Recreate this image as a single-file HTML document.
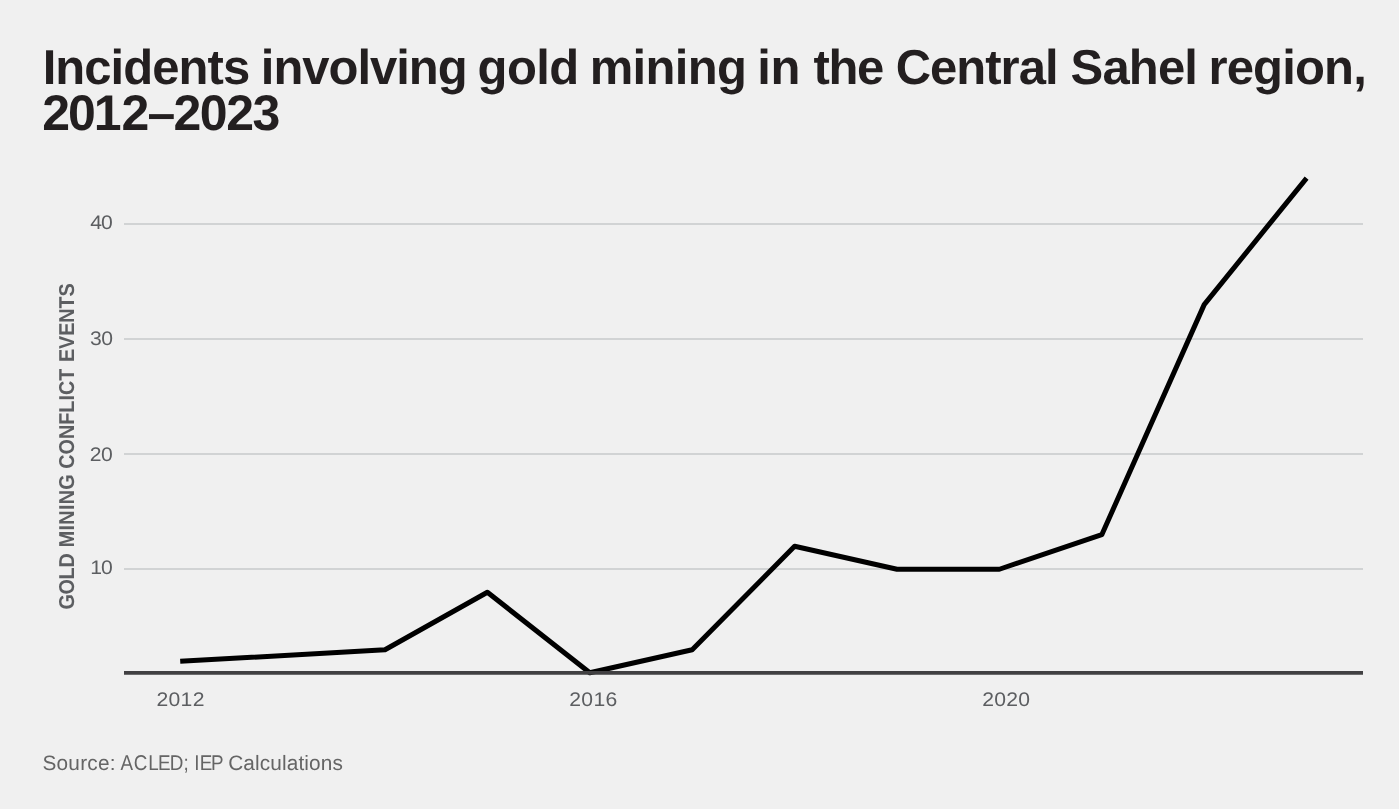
<!DOCTYPE html>
<html>
<head>
<meta charset="utf-8">
<title>Incidents involving gold mining in the Central Sahel region, 2012–2023</title>
<style>
html,body{margin:0;padding:0;background:#f0f0f0;}
body{width:1399px;height:809px;overflow:hidden;}
svg{display:block;will-change:transform;}
.t{font-family:"Liberation Sans",Arial,sans-serif;font-weight:bold;fill:#231f20;font-size:49px;}
.ax{font-family:"Liberation Sans",Arial,sans-serif;fill:#5c5e61;font-size:19.6px;}
.yl{font-family:"Liberation Sans",Arial,sans-serif;font-weight:bold;fill:#5c5e61;font-size:21.5px;}
.src{font-family:"Liberation Sans",Arial,sans-serif;fill:#656565;font-size:20.8px;}
</style>
</head>
<body>
<svg width="1399" height="809" viewBox="0 0 1399 809" text-rendering="geometricPrecision">
<rect width="1399" height="809" fill="#f0f0f0"/>
<g class="t">
<text x="42.65" y="83.7" letter-spacing="-0.944">Incidents</text>
<text x="260.80" y="83.7" letter-spacing="-1.019">involving</text>
<text x="477.60" y="83.7" letter-spacing="-0.617">gold</text>
<text x="589.65" y="83.7" letter-spacing="-0.680">mining</text>
<text x="757.20" y="83.7" letter-spacing="-0.400">in</text>
<text x="813.40" y="83.7" letter-spacing="-1.325">the</text>
<text x="895.70" y="83.7" letter-spacing="-0.992">Central</text>
<text x="1070.60" y="83.7" letter-spacing="-0.837">Sahel</text>
<text x="1208.45" y="83.7" letter-spacing="-0.825">region,</text>
<text x="42.2 67.9 93.7 121.4 147.4 173.4 199.8 226.3 252.6" y="129.8" font-size="50">2012–2023</text>
</g>
<g stroke="#d1d3d4" stroke-width="2" fill="none">
<line x1="124" y1="224" x2="1363" y2="224"/>
<line x1="124" y1="339" x2="1363" y2="339"/>
<line x1="124" y1="454" x2="1363" y2="454"/>
<line x1="124" y1="569" x2="1363" y2="569"/>
</g>
<g class="ax" transform="scale(1.08,1)">
<text x="83.67" y="228.8" letter-spacing="-0.963">40</text>
<text x="83.32" y="344.6" letter-spacing="-0.528">30</text>
<text x="83.17" y="460.8" letter-spacing="-0.463">20</text>
<text x="83.59" y="573.8" letter-spacing="-0.981">10</text>
</g>
<g class="yl">
<text transform="translate(73.9,609.62) rotate(-90) scale(0.92,1)" letter-spacing="-0.301">GOLD</text>
<text transform="translate(73.9,547.28) rotate(-90) scale(0.92,1)" letter-spacing="0.333">MINING</text>
<text transform="translate(73.9,468.72) rotate(-90) scale(0.92,1)" letter-spacing="0.000">CONFLICT</text>
<text transform="translate(73.9,362.08) rotate(-90) scale(0.92,1)" letter-spacing="-0.098">EVENTS</text>
</g>
<polyline fill="none" stroke="#000" stroke-width="5" stroke-linejoin="round" stroke-linecap="butt" points="180.2,661.29 385.0,649.78 487.4,592.26 589.8,672.79 692.2,649.78 794.6,546.24 897.0,569.25 999.4,569.25 1101.8,534.73 1204.2,304.63 1306.6,178.08"/>
<line x1="124" y1="672.9" x2="1363" y2="672.9" stroke="#414042" stroke-width="3.8"/>
<g class="ax" transform="scale(1.08,1)">
<text x="144.83" y="705.8" letter-spacing="0.302">2012</text>
<text x="527.15" y="705.8" letter-spacing="0.250">2016</text>
<text x="909.56" y="705.8" letter-spacing="0.188">2020</text>
</g>
<g class="src">
<text x="42.40" y="769.9" letter-spacing="0.258">Source:</text>
<text transform="scale(0.88,1)" x="137.0 151.9 168.6 179.5 192.8 208.5" y="769.9" font-size="21.4">ACLED;</text>
<text transform="scale(0.88,1)" x="220.8 226.9 239.7" y="769.9" font-size="21.4">IEP</text>
<text x="228.20" y="769.9" letter-spacing="0.127">Calculations</text>
</g>
</svg>
</body>
</html>
